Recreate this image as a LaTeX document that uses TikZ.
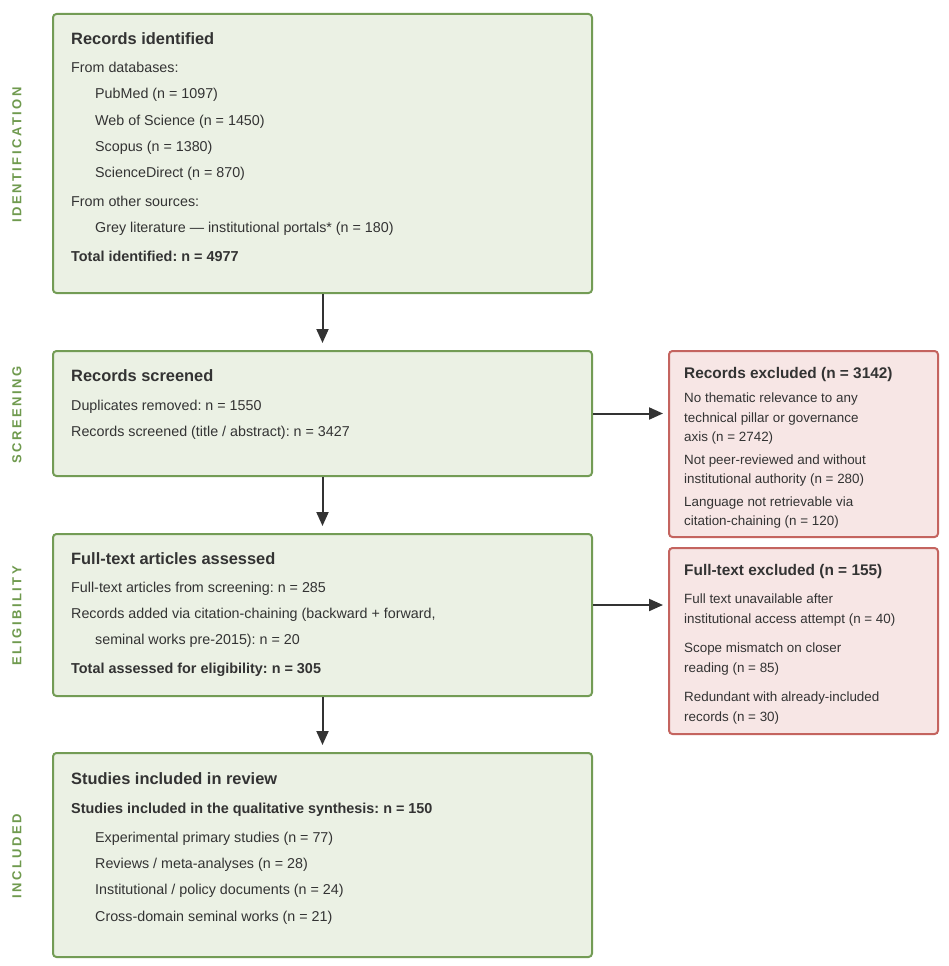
\documentclass[tikz,border=0pt]{standalone}
\usepackage{fontspec}
\setmainfont{Liberation Sans}
\usetikzlibrary{arrows.meta}
\definecolor{gfill}{HTML}{EBF1E4}
\definecolor{gline}{HTML}{739C55}
\definecolor{rfill}{HTML}{F7E6E5}
\definecolor{rline}{HTML}{C4645F}
\definecolor{ink}{HTML}{333333}
\definecolor{lab}{HTML}{6F9A4E}
\frenchspacing
\begin{document}
\begin{tikzpicture}[x=1pt,y=-1pt,
  gbox/.style={draw=gline, fill=gfill, line width=2pt, rounded corners=3.5pt, inner sep=0pt, anchor=north west, minimum width=539pt},
  rbox/.style={draw=rline, fill=rfill, line width=2pt, rounded corners=3.5pt, inner sep=0pt, anchor=north west, minimum width=269pt, minimum height=186pt},
  txt/.style={anchor=base west, inner sep=0pt, text=ink, font=\fontsize{14.3}{17}\selectfont},
  btxt/.style={txt, font=\fontsize{14.4}{17}\selectfont\bfseries},
  ttl/.style={txt, font=\fontsize{16.4}{20}\selectfont\bfseries},
  rtxt/.style={txt, font=\fontsize{13.4}{16}\selectfont},
  rttl/.style={txt, font=\fontsize{15.4}{18}\selectfont\bfseries},
  phase/.style={rotate=90, text=lab, inner sep=0pt, font=\fontsize{13}{15}\selectfont\bfseries\addfontfeature{LetterSpace=19}},
  arr/.style={draw=ink, line width=2pt, -{Triangle[length=14pt,width=12pt]}}
]
\useasboundingbox (0,0) rectangle (948,966);
\fill[white] (0,0) rectangle (948,966);

% boxes
\node[gbox, minimum height=279pt] (b1) at (52,13) {};
\node[gbox, minimum height=125pt] (b2) at (52,350) {};
\node[gbox, minimum height=162pt] (b3) at (52,533) {};
\node[gbox, minimum height=204pt] (b4) at (52,752) {};
\node[rbox] (r1) at (668,350) {};
\node[rbox] (r2) at (668,547) {};

% phase labels
\node[phase] (p1) at (17,155) {IDENTIFICATION};
\node[phase] (p2) at (17,415) {SCREENING};
\node[phase] (p3) at (17,616) {ELIGIBILITY};
\node[phase] (p4) at (17,856) {INCLUDED};

% box 1
\node[ttl] (t1) at (71,45) {Records identified};
\node[txt] (t1a) at (71,73) {From databases:};
\node[txt] (t1b) at (95,99) {PubMed (n = 1097)};
\node[txt] (t1c) at (95,125) {Web of Science (n = 1450)};
\node[txt] (t1d) at (95,151) {Scopus (n = 1380)};
\node[txt] (t1e) at (95,177) {ScienceDirect (n = 870)};
\node[txt] (t1f) at (71,206) {From other sources:};
\node[txt] (t1g) at (95,232) {Grey literature — institutional portals* (n = 180)};
\node[btxt] (t1h) at (71,261) {Total identified: n = 4977};

% box 2
\node[ttl] (t2) at (71,381) {Records screened};
\node[txt] (t2a) at (71,410) {Duplicates removed: n = 1550};
\node[txt] (t2b) at (71,436) {Records screened (title / abstract): n = 3427};

% box 3
\node[ttl] (t3) at (71,564) {Full-text articles assessed};
\node[txt] (t3a) at (71,592) {Full-text articles from screening: n = 285};
\node[txt] (t3b) at (71,618) {Records added via citation-chaining (backward + forward,};
\node[txt] (t3c) at (95,644) {seminal works pre-2015): n = 20};
\node[btxt] (t3d) at (71,673) {Total assessed for eligibility: n = 305};

% box 4
\node[ttl] (t4) at (71,784) {Studies included in review};
\node[btxt] (t4a) at (71,813) {Studies included in the qualitative synthesis: n = 150};
\node[txt] (t4b) at (95,842) {Experimental primary studies (n = 77)};
\node[txt] (t4c) at (95,868) {Reviews / meta-analyses (n = 28)};
\node[txt] (t4d) at (95,894) {Institutional / policy documents (n = 24)};
\node[txt] (t4e) at (95,921) {Cross-domain seminal works (n = 21)};

% red box 1
\node[rttl] (u1) at (684,378) {Records excluded (n = 3142)};
\node[rtxt] (u1a) at (684,402) {No thematic relevance to any};
\node[rtxt] (u1b) at (684,422) {technical pillar or governance};
\node[rtxt] (u1c) at (684,441) {axis (n = 2742)};
\node[rtxt] (u1d) at (684,464) {Not peer-reviewed and without};
\node[rtxt] (u1e) at (684,483) {institutional authority (n = 280)};
\node[rtxt] (u1f) at (684,506) {Language not retrievable via};
\node[rtxt] (u1g) at (684,525) {citation-chaining (n = 120)};

% red box 2
\node[rttl] (u2) at (684,575) {Full-text excluded (n = 155)};
\node[rtxt] (u2a) at (684,603) {Full text unavailable after};
\node[rtxt] (u2b) at (684,623) {institutional access attempt (n = 40)};
\node[rtxt] (u2c) at (684,652) {Scope mismatch on closer};
\node[rtxt] (u2d) at (684,672) {reading (n = 85)};
\node[rtxt] (u2e) at (684,701) {Redundant with already-included};
\node[rtxt] (u2f) at (684,721) {records (n = 30)};

% connectors
\draw[arr, shorten >=7pt] (b1.south) -- (b2.north);
\draw[arr, shorten >=7pt] (b2.south) -- (b3.north);
\draw[arr, shorten >=7pt] (b3.south) -- (b4.north);
\draw[arr, shorten >=5pt] (b2.east) -- (b2.east -| r1.west);
\coordinate (a2) at ([yshift=10pt]b3.east);
\draw[arr, shorten >=5pt] (a2) -- (a2 -| r2.west);
\end{tikzpicture}
\end{document}
